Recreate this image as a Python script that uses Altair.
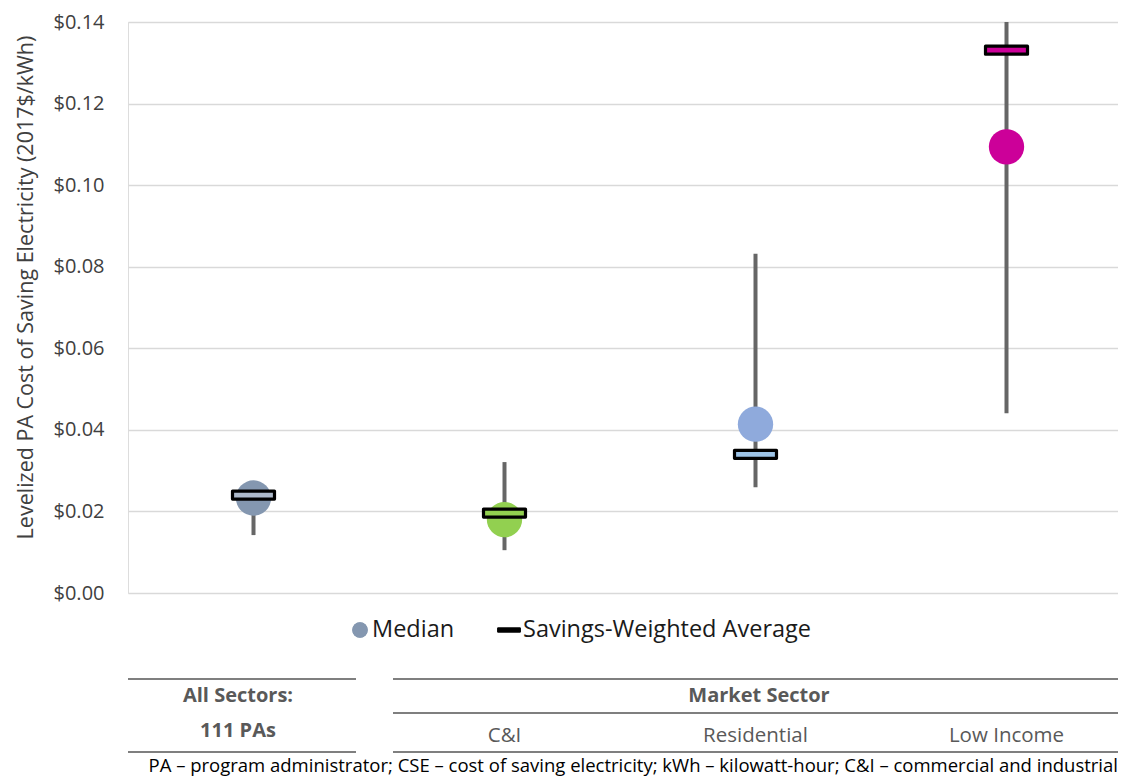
import altair as alt
import pandas as pd

categories = ["All Sectors", "C&I", "Residential", "Low Income"]
median = [0.0233, 0.0180, 0.0414, 0.1094]
weighted = [0.0240, 0.0196, 0.0340, 0.1331]
range_low = [0.0142, 0.0105, 0.0259, 0.0441]
range_high = [0.0240, 0.0321, 0.0832, 0.1500]
median_colors = ["#8497B0", "#92D050", "#8FAADC", "#CC0099"]
weighted_colors = ["#ADB9CA", "#92D050", "#9DC3E6", "#CC0099"]
sector_labels = ["", "C&I", "Residential", "Low Income"]

FONT = "Open Sans"
W, H = 990, 571

df = pd.DataFrame({
    "cat": categories,
    "median": median,
    "weighted": weighted,
    "lo": range_low,
    "hi": range_high,
    "mcol": median_colors,
    "wcol": weighted_colors,
    "label": sector_labels,
})

x = alt.X("cat:N", sort=categories, axis=None,
          scale=alt.Scale(paddingInner=0, paddingOuter=0, range=[0, 1004]))
yscale = alt.Scale(domain=[0, 0.14], nice=False, zero=True)

base = alt.Chart(df)

whisk = base.mark_rule(color="#666666", strokeWidth=4, clip=True).encode(
    x=x,
    y=alt.Y("lo:Q", scale=yscale,
            axis=alt.Axis(format="$.2f", values=[0, 0.02, 0.04, 0.06, 0.08, 0.10, 0.12, 0.14],
                          title="Levelized PA Cost of Saving Electricity (2017$/kWh)",
                          grid=True, gridColor="#D9D9D9", gridWidth=1.3,
                          domain=False, ticks=False, labelPadding=24,
                          labelFont=FONT, labelFontSize=20, labelColor="#404040",
                          titleFont=FONT, titleFontSize=21.5, titleFontWeight="normal",
                          titleColor="#404040", titlePadding=16, titleY=265)),
    y2="hi:Q",
)

med = base.mark_point(shape="circle", filled=True, size=1250, opacity=1).encode(
    x=x, y=alt.Y("median:Q", scale=yscale), color=alt.Color("mcol:N", scale=None)
)

rect_path = "M-1,-0.19 L1,-0.19 L1,0.19 L-1,0.19 Z"
wavg = base.mark_point(shape=rect_path, filled=True, size=1764, opacity=1,
                       stroke="black", strokeWidth=3.2, strokeJoin="round").encode(
    x=x, y=alt.Y("weighted:Q", scale=yscale), fill=alt.Fill("wcol:N", scale=None)
)

sector_text = base.mark_text(font=FONT, fontSize=20.5, color="#595959").encode(
    x=x, y=alt.value(714), text="label:N"
)

# legend
leg_items = pd.DataFrame({"lx": [244, 395], "txt": ["Median", "Savings-Weighted Average"]})
leg_text = alt.Chart(leg_items).mark_text(font=FONT, fontSize=23.5, align="left",
                                          baseline="middle", color="#1a1a1a").encode(
    x=alt.X("lx:Q", scale=None), y=alt.value(608), text="txt:N"
)
leg_circle = alt.Chart(leg_items).mark_point(shape="circle", filled=True, size=240,
                                             color="#8497B0", opacity=1).encode(
    x=alt.value(232), y=alt.value(608)
)
bar_path = "M-1,-0.16 L1,-0.16 L1,0.16 L-1,0.16 Z"
leg_bar = alt.Chart(leg_items).mark_point(shape=bar_path, filled=True, size=484,
                                          color="black", opacity=1, stroke="black",
                                          strokeWidth=1.5, strokeJoin="round").encode(
    x=alt.value(381), y=alt.value(608)
)

# table rules
rules_df = pd.DataFrame({
    "x1": [0, 265, 265, 0, 265],
    "x2": [228, 990, 990, 228, 990],
    "yy": [657, 657, 691, 730, 730],
})
table_rules = alt.Chart(rules_df).mark_rule(color="#7F7F7F", strokeWidth=2.2).encode(
    x=alt.X("x1:Q", scale=None), x2="x2:Q", y=alt.Y("yy:Q", scale=None)
)

head_df = pd.DataFrame({
    "tx": [110, 110, 631],
    "ty": [674, 709, 674],
    "t": ["All Sectors:", "111 PAs", "Market Sector"],
})
head_text = alt.Chart(head_df).mark_text(font=FONT, fontSize=20, fontWeight="bold",
                                         color="#595959").encode(
    x=alt.X("tx:Q", scale=None), y=alt.Y("ty:Q", scale=None), text="t:N"
)

foot = alt.Chart(pd.DataFrame({"t": ["PA – program administrator; CSE – cost of saving electricity; kWh – kilowatt-hour; C&I – commercial and industrial"]})).mark_text(
    font=FONT, fontSize=18.5, align="right", baseline="middle", color="#000000"
).encode(x=alt.value(990), y=alt.value(744), text="t:N")

chart = alt.layer(whisk, med, wavg, sector_text, leg_circle, leg_bar, leg_text,
                  table_rules, head_text, foot).properties(
    width=W, height=H,
    autosize=alt.AutoSizeParams(type="none"),
    padding={"left": 120, "top": 14, "right": 0, "bottom": 184},
).configure_view(stroke=None).configure(background="white")

chart.save("out.html", embed_options={"renderer": "svg", "actions": False})
